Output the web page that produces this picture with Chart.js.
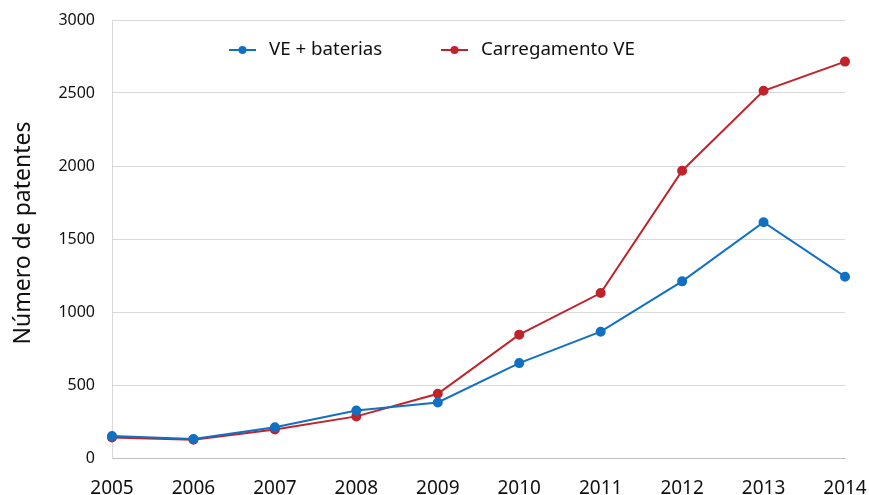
<!DOCTYPE html>
<html>
<head>
<meta charset="utf-8">
<script src="https://cdn.jsdelivr.net/npm/chart.js@4"></script>
<style>
html,body{margin:0;padding:0;background:#fff;}
#wrap{width:869px;height:495px;}
</style>
</head>
<body>
<div id="wrap"><canvas id="c" width="869" height="495"></canvas></div>
<script>
const years = ['2005','2006','2007','2008','2009','2010','2011','2012','2013','2014'];
const veBaterias = [150, 130, 210, 325, 380, 650, 865, 1210, 1615, 1242];
const carregamento = [140, 125, 195, 285, 440, 845, 1130, 1968, 2515, 2715];
const seriesNames = ['VE + baterias', 'Carregamento VE'];
const yTicks = [0, 500, 1000, 1500, 2000, 2500, 3000];
const yTitle = '  Número de patentes';
const blue = '#1170C4';
const red = '#C1232B';
const FONT = 'Noto Sans';

// legend drawn inside the plot area (item start x positions relative to canvas)
const legendItemsX = [229, 441];
const legendY = 50;

const insideLegend = {
  id: 'insideLegend',
  afterDraw(chart) {
    const ctx = chart.ctx;
    ctx.save();
    chart.data.datasets.forEach((ds, i) => {
      const x = legendItemsX[i];
      ctx.strokeStyle = ds.borderColor;
      ctx.fillStyle = ds.borderColor;
      ctx.lineWidth = 2;
      ctx.beginPath(); ctx.moveTo(x, legendY); ctx.lineTo(x + 27, legendY); ctx.stroke();
      ctx.beginPath(); ctx.arc(x + 13.5, legendY, 4, 0, Math.PI * 2); ctx.fill();
      ctx.fillStyle = '#111';
      ctx.font = '18.7px "' + FONT + '"';
      ctx.textBaseline = 'middle';
      ctx.textAlign = 'left';
      ctx.fillText(ds.label, x + 40, legendY);
    });
    ctx.restore();
  }
};

Chart.defaults.font.family = FONT;
Chart.defaults.color = '#111';

new Chart(document.getElementById('c'), {
  type: 'line',
  data: {
    labels: years,
    datasets: [
      {label: seriesNames[0], data: veBaterias, borderColor: blue, backgroundColor: blue,
       pointBackgroundColor: blue, pointBorderColor: blue, borderWidth: 2, pointRadius: 4, pointStyle: 'circle', tension: 0},
      {label: seriesNames[1], data: carregamento, borderColor: red, backgroundColor: red,
       pointBackgroundColor: red, pointBorderColor: red, borderWidth: 2, pointRadius: 4, pointStyle: 'circle', tension: 0}
    ]
  },
  plugins: [insideLegend],
  options: {
    responsive: false,
    animation: false,
    layout: {padding: {top: 20, right: 24, left: 0, bottom: 0}},
    plugins: {
      tooltip: {enabled: false},
      legend: {display: false}
    },
    scales: {
      x: {
        type: 'category',
        offset: false,
        grid: {display: false, drawTicks: false},
        border: {display: true, color: '#bfbfbf', width: 1},
        ticks: {font: {size: 19}, padding: 19, color: '#111', maxRotation: 0, autoSkip: false},
        afterFit: (s) => { s.height = 37; s.paddingLeft = 0; s.paddingRight = 0; }
      },
      y: {
        min: 0, max: 3000,
        afterBuildTicks: (s) => { s.ticks = yTicks.map(v => ({value: v})); },
        grid: {color: '#d9d9d9', drawTicks: false, lineWidth: 1},
        border: {display: true, color: '#d9d9d9', width: 1},
        ticks: {font: {size: 16}, padding: 17, color: '#111', callback: (v) => String(v)},
        title: {display: true, text: yTitle, font: {size: 23}, color: '#111', padding: {top: 10, bottom: 0}},
        afterFit: (s) => { s.width = 112; s.paddingTop = 0; s.paddingBottom = 0; }
      }
    }
  }
});
</script>
</body>
</html>
